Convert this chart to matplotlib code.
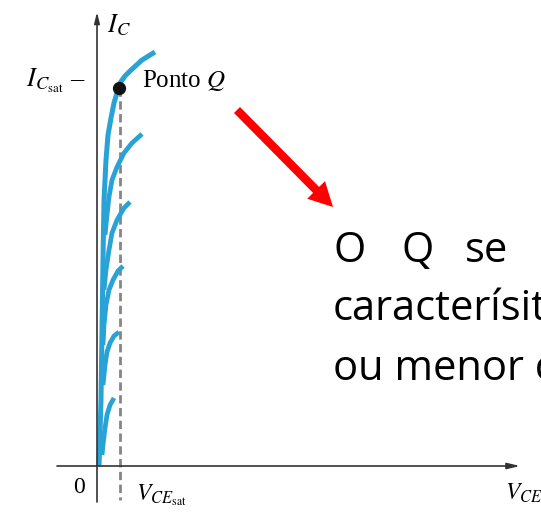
import matplotlib
matplotlib.use("Agg")
import matplotlib.pyplot as plt

plt.rcParams['mathtext.fontset'] = 'stix'

# curvas de saida (V_CE, I_C)
main_vce = [0.02, 0.04, 0.05, 0.06, 0.07, 0.09, 0.11, 0.14, 0.17, 0.20, 0.23, 0.28, 0.33, 0.45, 0.58]
main_ic = [0.00, 0.66, 1.36, 2.06, 2.66, 3.06, 3.31, 3.48, 3.63, 3.73, 3.83, 3.90, 3.95, 4.06, 4.14]

branch_vce = [
    [0.08, 0.10, 0.12, 0.15, 0.20, 0.27, 0.35, 0.45],
    [0.07, 0.09, 0.12, 0.15, 0.20, 0.27, 0.33],
    [0.06, 0.07, 0.09, 0.12, 0.16, 0.21, 0.26],
    [0.06, 0.08, 0.10, 0.13, 0.17, 0.22],
    [0.05, 0.06, 0.08, 0.10, 0.13, 0.17],
]
branch_ic = [
    [2.31, 2.51, 2.69, 2.86, 2.99, 3.13, 3.23, 3.32],
    [1.76, 1.96, 2.16, 2.33, 2.46, 2.58, 2.64],
    [1.21, 1.41, 1.61, 1.76, 1.86, 1.95, 2.00],
    [0.81, 1.01, 1.14, 1.23, 1.30, 1.34],
    [0.11, 0.21, 0.38, 0.51, 0.61, 0.68],
]

vce_sat = 0.225
ic_sat = 3.78

blue = '#29a2d6'

fig = plt.figure(figsize=(5.41, 5.12), dpi=100)
ax = fig.add_axes([0, 0, 1, 1])
ax.set_xlim(-0.97, 4.44)
ax.set_ylim(-0.46, 4.66)
ax.axis('off')

# eixos
ax.annotate('', xy=(0, 4.54), xytext=(0, -0.36),
            arrowprops=dict(arrowstyle='-|>,head_length=0.65,head_width=0.16',
                            lw=1.2, color='#333333', shrinkA=0, shrinkB=0),
            annotation_clip=False)
ax.annotate('', xy=(4.23, 0), xytext=(-0.40, 0),
            arrowprops=dict(arrowstyle='-|>,head_length=0.75,head_width=0.18',
                            lw=1.2, color='#333333', shrinkA=0, shrinkB=0),
            annotation_clip=False)

# linha tracejada de saturacao
ax.plot([vce_sat, vce_sat], [ic_sat, -0.34], color='#858585', lw=2.0,
        dashes=(3.0, 1.6))

ax.plot(main_vce, main_ic, color=blue, lw=3.6, solid_capstyle='butt')
for bx, by in zip(branch_vce, branch_ic):
    ax.plot(bx, by, color=blue, lw=3.4, solid_capstyle='butt')

ax.plot([vce_sat - 0.01], [ic_sat], 'o', color='#111111', ms=8.5)

serif = 'Liberation Serif'
ax.text(0.10, 4.34, r'$I_C$', fontsize=19, family=serif, va='baseline')
ax.text(-0.11, 3.79, r'$I_{C_{\rm sat}}$ –', fontsize=19, family=serif,
        ha='right', va='baseline')
ax.text(0.45, 3.79, r'Ponto $Q$', fontsize=18, family=serif, va='baseline')
ax.text(-0.18, -0.27, '0', fontsize=17, family=serif, ha='center', va='baseline')
ax.text(0.39, -0.34, r'$V_{CE_{\rm sat}}$', fontsize=17, family=serif, va='baseline')
ax.text(4.08, -0.34, r'$V_{CE}$', fontsize=17, family=serif, va='baseline')

# seta vermelha
ax.arrow(1.40, 3.56, 0.96, -0.97, width=0.085, head_width=0.25, head_length=0.24,
         length_includes_head=True, color='#ff0000', lw=0)

sans = 'Open Sans'
ax.text(2.36, 2.04, 'O', fontsize=30, family=sans, va='baseline')
ax.text(3.04, 2.04, 'Q', fontsize=30, family=sans, va='baseline')
ax.text(3.68, 2.04, 'se', fontsize=30, family=sans, va='baseline')
ax.text(2.36, 1.46, 'caracterísit', fontsize=30, family=sans, va='baseline')
ax.text(2.36, 0.86, 'ou menor c', fontsize=30, family=sans, va='baseline')

fig.savefig('out.png', dpi=100)
